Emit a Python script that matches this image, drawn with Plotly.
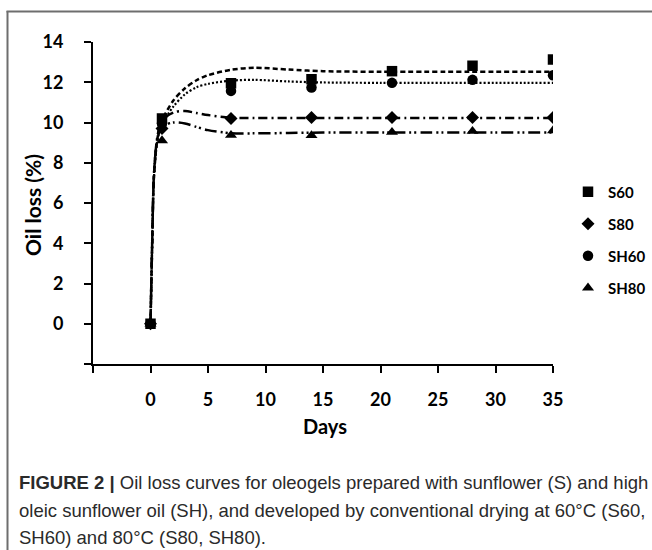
import plotly.graph_objects as go

# ---- data ----
days = [0, 1, 7, 14, 21, 28, 35]
s60 = [0, 10.2, 11.95, 12.15, 12.55, 12.82, 13.13]
s80 = [0, 9.7, 10.2, 10.25, 10.25, 10.25, 10.25]
sh60 = [0, 9.95, 11.57, 11.74, 11.97, 12.12, 12.35]
sh80 = [0, 9.1, 9.37, 9.36, 9.52, 9.57, 9.6]

# fitted curves
fit_days = [0, 0.15, 0.3, 0.6, 1, 2, 3, 4, 5, 7, 9, 12, 15, 20, 35]
s60_fit = [0, 4.1, 7.3, 9.2, 10.1, 11.1, 11.7, 12.1, 12.35, 12.62, 12.72, 12.63, 12.55, 12.52, 12.52]
sh60_fit = [0, 4.1, 7.3, 9.1, 9.9, 10.8, 11.4, 11.75, 11.92, 12.08, 12.12, 12.04, 11.99, 11.97, 11.97]
s80_fit = [0, 4.1, 7.4, 9.3, 10.1, 10.5, 10.57, 10.47, 10.37, 10.24, 10.22, 10.22, 10.22, 10.22, 10.22]
sh80_fit = [0, 4.1, 7.4, 9.2, 9.8, 10.0, 9.95, 9.78, 9.62, 9.47, 9.46, 9.48, 9.5, 9.5, 9.5]

x_ticks = [-5, 0, 5, 10, 15, 20, 25, 30, 35]
x_ticktext = ["", "0", "5", "10", "15", "20", "25", "30", "35"]
y_ticks = [-2, 0, 2, 4, 6, 8, 10, 12, 14]
y_ticktext = ["", "0", "2", "4", "6", "8", "10", "12", "14"]

series_names = ["S60", "S80", "SH60", "SH80"]
caption_lines = [
    "<b>FIGURE 2 |</b> Oil loss curves for oleogels prepared with sunflower (S) and high",
    "oleic sunflower oil (SH), and developed by conventional drying at 60°C (S60,",
    "SH60) and 80°C (S80, SH80).",
]

# ---- layout geometry (pixels) ----
W, H = 652, 550
L, R, T, B = 93, 99, 42, 186


def px_x(p):
    return (p - L) / (W - L - R)


def px_y(p):
    return (H - B - p) / (H - T - B)


FONT = "Lato"
fig = go.Figure()

fits = [s60_fit, s80_fit, sh60_fit, sh80_fit]
dashes = ["5px,3px", "9px,4px,2px,4px", "2px,2px", "12px,4px,2px,3px,2px,4px"]
widths = [2.5, 2.5, 2.2, 2.5]
for name, fy, d, w in zip(series_names, fits, dashes, widths):
    fig.add_trace(go.Scatter(
        x=fit_days, y=fy, mode="lines", showlegend=False, hoverinfo="skip",
        line=dict(color="black", width=w, dash=d, shape="spline", smoothing=0.8),
    ))

vals = [s60, s80, sh60, sh80]
symbols = ["square", "diamond", "circle", "triangle-up"]
sizes = [10.5, 10, 10.5, 10.5]
for name, vy, sym, sz in zip(series_names, vals, symbols, sizes):
    fig.add_trace(go.Scatter(
        x=days, y=vy, mode="markers", name=name, legendgroup=name,
        marker=dict(symbol=sym, size=sz, color="black"),
    ))

axis_common = dict(
    showline=True, linecolor="black", linewidth=2, ticks="outside",
    ticklen=7, tickwidth=2, tickcolor="black", showgrid=False, zeroline=False,
    tickfont=dict(family=FONT, size=18, color="black", weight="bold"),
)
fig.update_xaxes(range=[-5, 35], tickvals=x_ticks, ticktext=x_ticktext,
                 ticklabelstandoff=11, **axis_common)
fig.update_yaxes(range=[-2, 14], tickvals=y_ticks, ticktext=y_ticktext,
                 ticklabelstandoff=17, **axis_common)

annotations = [
    dict(text="Days", x=px_x(325), y=px_y(426), xref="paper", yref="paper",
         showarrow=False, xanchor="center", yanchor="middle",
         font=dict(family=FONT, size=20, color="black", weight="bold")),
    dict(text="Oil loss (%)", x=px_x(32), y=px_y(205), xref="paper", yref="paper",
         showarrow=False, xanchor="center", yanchor="middle", textangle=-90,
         font=dict(family=FONT, size=21, color="black", weight="bold")),
]
cap_y = [482, 510, 537]
for txt, cy in zip(caption_lines, cap_y):
    annotations.append(dict(
        text=txt, x=px_x(17), y=px_y(cy), xref="paper", yref="paper",
        showarrow=False, xanchor="left", yanchor="middle",
        font=dict(family="Liberation Sans", size=18.5, color="#2a2a2a"),
    ))

shapes = [
    dict(type="line", xref="paper", yref="paper", x0=px_x(7.5), x1=px_x(7.5),
         y0=px_y(11), y1=px_y(560), line=dict(color="#6e6e6e", width=2)),
    dict(type="line", xref="paper", yref="paper", x0=px_x(6.5), x1=px_x(660),
         y0=px_y(11.5), y1=px_y(11.5), line=dict(color="#6e6e6e", width=2)),
]

fig.update_layout(
    width=W, height=H,
    margin=dict(l=L, r=R, t=T, b=B, pad=0, autoexpand=False),
    paper_bgcolor="white", plot_bgcolor="white",
    annotations=annotations, shapes=shapes,
    legend=dict(x=px_x(568), y=px_y(175.5), xanchor="left", yanchor="top",
                font=dict(family=FONT, size=15, color="black", weight="bold"),
                tracegroupgap=9.5, bgcolor="rgba(0,0,0,0)"),
)

fig.write_html(
    "out.html",
    config={"displayModeBar": False},
    post_script="document.body.style.margin='0';document.body.style.padding='0';",
)
